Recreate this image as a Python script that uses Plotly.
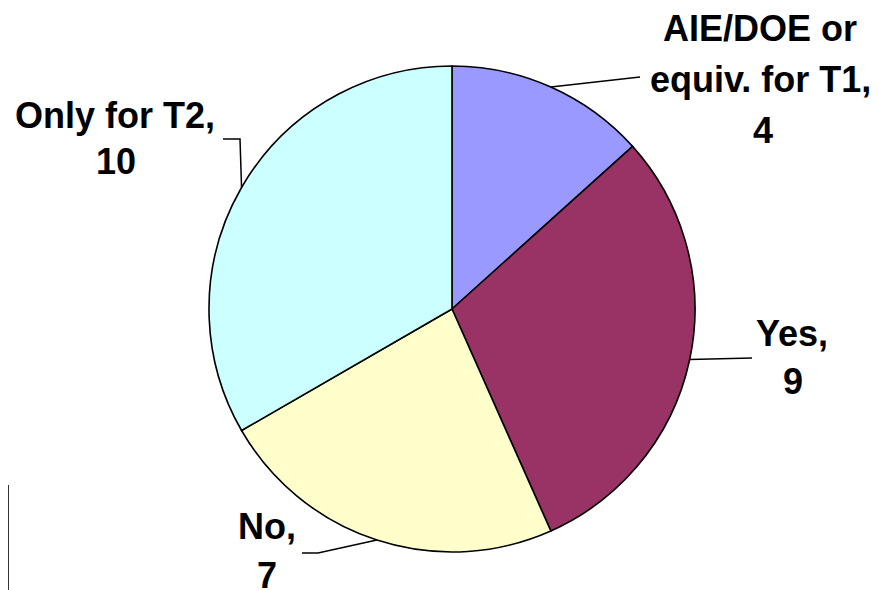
import math
import plotly.graph_objects as go

labels = ["AIE/DOE or equiv. for T1", "Yes", "No", "Only for T2"]
label_lines = [["AIE/DOE or", "equiv. for T1,"], ["Yes,"], ["No,"], ["Only for T2,"]]
values = [4, 9, 7, 10]
colors = ["#9999FF", "#993366", "#FFFFCC", "#CCFFFF"]

# page is rendered with an 8px body margin, so the figure is offset by 8px
OFF = 8
W, H = 879 - OFF, 590 - OFF
CX, CY, R = 452, 309, 243

# per-line label centres (page pixels) and leader-line end points
line_pos = [
    [(760, 29), (760, 79), (763, 130)],
    [(792, 333), (793, 381)],
    [(267, 526), (267, 575)],
    [(115, 115), (116, 162)],
]
leader_ends = [[(640, 77)], [(752, 358)], [(318, 553), (302, 553)], [(240, 139), (223, 139)]]

def px(x):
    return (x - OFF) / W

def py(y):
    return 1 - (y - OFF) / H

fig = go.Figure(go.Pie(
    labels=labels,
    values=values,
    marker=dict(colors=colors, line=dict(color="black", width=1.6)),
    sort=False,
    direction="clockwise",
    rotation=0,
    textinfo="none",
    hoverinfo="label+value",
    domain=dict(x=[px(CX - R), px(CX + R)], y=[py(CY + R), py(CY - R)]),
    showlegend=False,
))

total = sum(values)
cum = 0
shapes = []
annotations = []
for i, v in enumerate(values):
    mid = (cum + v / 2) / total * 2 * math.pi
    cum += v
    sx = CX + R * math.sin(mid)
    sy = CY - R * math.cos(mid)
    pts = [(sx, sy)] + leader_ends[i]
    path = "M " + " L ".join(f"{px(x)},{py(y)}" for x, y in pts)
    shapes.append(dict(type="path", path=path, xref="paper", yref="paper",
                       line=dict(color="black", width=1.5)))
    texts = label_lines[i] + [str(v)]
    for t, (lx, ly) in zip(texts, line_pos[i]):
        annotations.append(dict(text=f"<b>{t}</b>", x=px(lx), y=py(ly),
                                xref="paper", yref="paper",
                                showarrow=False, xanchor="center", yanchor="middle",
                                font=dict(family="Liberation Sans, Arial, sans-serif",
                                          size=36, color="black")))

# cut-off legend frame at bottom-left
shapes.append(dict(type="rect", xref="paper", yref="paper",
                   x0=px(-50), x1=px(8), y0=py(640), y1=py(486),
                   line=dict(color="#333333", width=2), fillcolor="rgba(0,0,0,0)"))

fig.update_layout(
    width=W, height=H,
    margin=dict(l=0, r=0, t=0, b=0),
    paper_bgcolor="white",
    plot_bgcolor="white",
    shapes=shapes,
    annotations=annotations,
)

fig.write_html("out.html")
